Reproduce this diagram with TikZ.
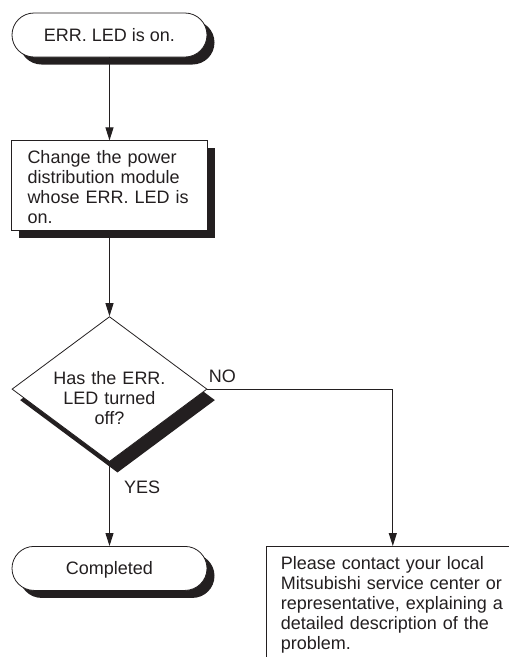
\documentclass[tikz,border=0pt]{standalone}
\usepackage{fontspec}
\setmainfont{Liberation Sans}
\usepackage{xcolor}
\usetikzlibrary{arrows.meta,positioning,shapes.geometric,shadows}
\definecolor{ink}{RGB}{35,31,32}

\begin{document}
\begin{tikzpicture}[
x=1pt, y=1pt,
font=\fontsize{18}{20}\selectfont,
terminal/.style={draw=ink, line width=0.8pt, fill=white, text=ink, rounded corners=22pt, minimum width=195pt, minimum height=44pt, inner sep=0pt, text height=13pt, text depth=1pt, drop shadow={shadow xshift=7.5pt, shadow yshift=-7.5pt, opacity=1, fill=ink}},
box/.style={draw=ink, line width=0.8pt, fill=white, text=ink, align=left, inner ysep=0pt, text height=23pt},
decision/.style={diamond, aspect=1.345, draw=ink, line width=0.8pt, fill=white, text=ink, align=center, text width=120pt, minimum width=195pt, minimum height=145pt, inner sep=0pt, text height=13pt, text depth=23pt, drop shadow={shadow xshift=8pt, shadow yshift=-11pt, opacity=1, fill=ink}},
arrow/.style={-{Triangle[length=13pt,width=8pt]}, draw=ink, line width=1pt},
tag/.style={text=ink, inner sep=0pt}
]
\useasboundingbox (0,0) rectangle (509,-657);

\node[terminal] (start) at (109.5,-35) {ERR. LED is on.};
\node[box, text width=164pt, inner xsep=16pt, text depth=67pt, below=83pt of start, drop shadow={shadow xshift=7.5pt, shadow yshift=-7.5pt, opacity=1, fill=ink}] (change) {Change the power\\distribution module\\whose ERR. LED is\\on.};
\node[decision, below=85pt of change] (check) {Has the ERR.\\LED turned\\off?};
\node[terminal, below=84pt of check] (done) {Completed};
\node[box, text width=224pt, inner xsep=14pt, text depth=89pt, below right=0pt and 59pt of done.north east] (contact) {Please contact your local\\Mitsubishi service center or\\representative, explaining a\\detailed description of the\\problem.};

\draw[arrow] (start) -- (change);
\draw[arrow] (change) -- (check);
\draw[arrow] (check) -- node[tag, pos=0, below right=18pt and 14pt] {YES} (done);
\draw[arrow] (check.east) -| node[tag, pos=0, above right=6pt and 1pt] {NO} (contact.north);
\end{tikzpicture}
\end{document}
